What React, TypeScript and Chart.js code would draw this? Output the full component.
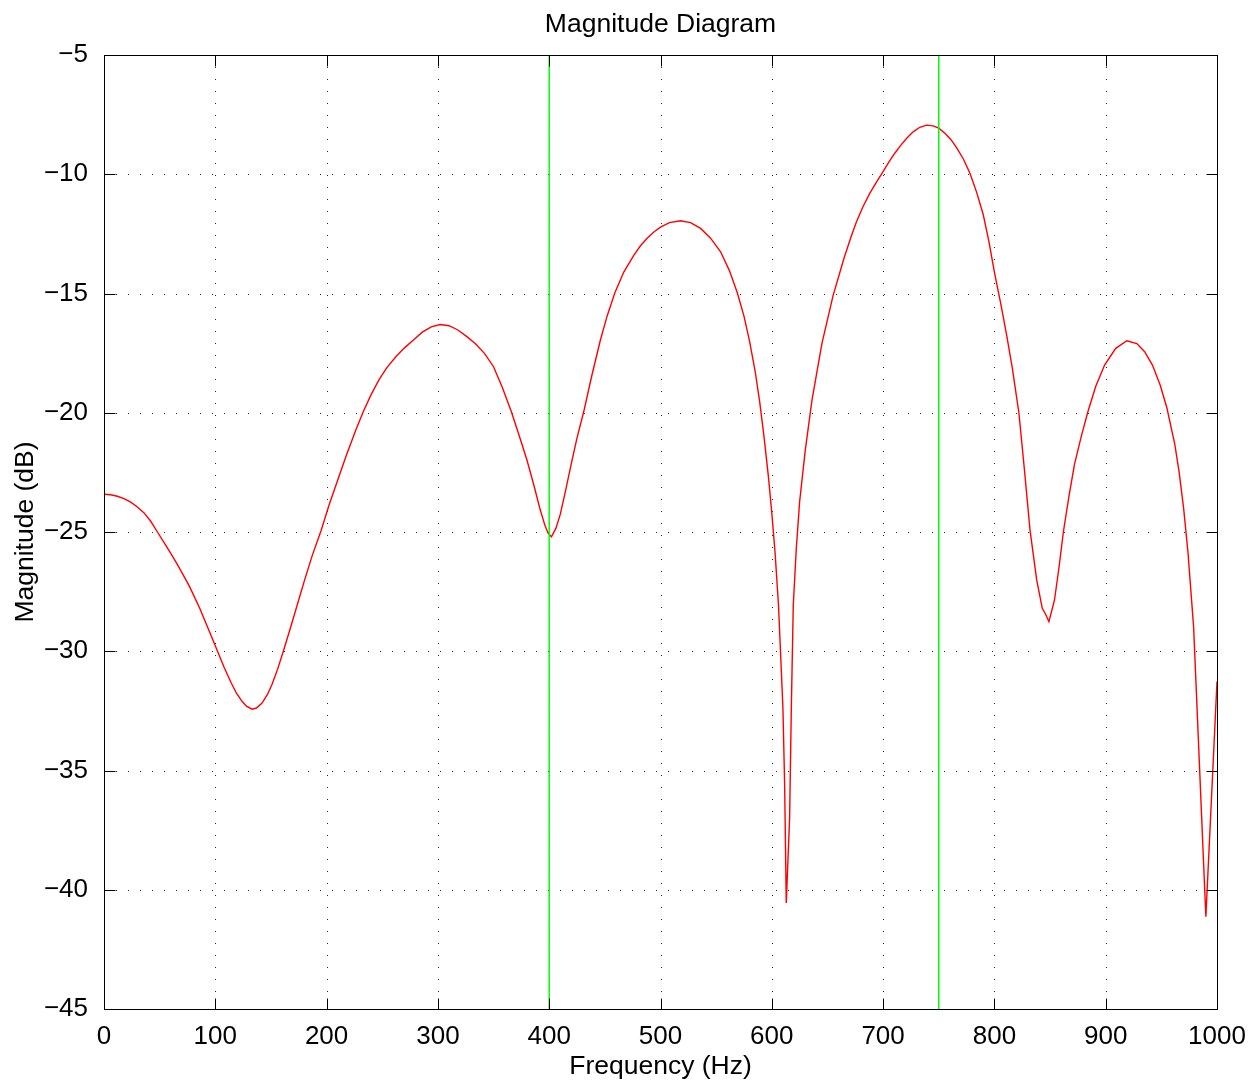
import React, { useEffect, useRef } from 'react';
import { Chart, registerables } from 'chart.js';

Chart.register(...registerables);

// Frequency samples (Hz) of the magnitude curve
const frequencies = [
  0, 6, 12, 18, 24, 30, 36, 42, 48, 54,
  60, 66, 72, 77, 81, 86, 90, 96, 102, 108,
  114, 119, 124, 128, 133, 137, 142, 147, 151, 156,
  161, 167, 174, 180, 187, 195, 202, 210, 218, 226,
  233, 240, 247, 254, 262, 270, 278, 286, 294, 302,
  310, 318, 326, 334, 342, 350, 358, 366, 373, 380,
  386, 392, 396, 399, 402, 406, 410, 415, 420, 425,
  431, 438, 446, 452, 459, 467, 476, 482, 488, 494,
  500, 508, 518, 527, 536, 545, 554, 562, 569, 575,
  580, 585, 589, 593, 597, 600, 603, 606, 608, 610,
  611.5, 613, 616, 617.5, 619.3, 622, 625, 630, 636, 645,
  655, 665, 671, 676, 682, 688, 694, 699, 705, 710,
  716, 721, 727, 733, 739, 745, 750, 756, 761, 766,
  772, 778, 784, 790, 795, 800, 806, 811, 816, 822,
  827, 832, 838, 843, 846, 849, 854, 858, 862, 867,
  872, 878, 884, 891, 899, 909, 919, 928, 935, 942,
  949, 955, 962, 966, 970, 974, 979, 990, 1000,
];

// Magnitude (dB) at each frequency sample
const magnitudes = [
  -23.42, -23.44, -23.5, -23.6, -23.75, -23.95, -24.2, -24.55, -25.0, -25.45,
  -25.9, -26.37, -26.87, -27.3, -27.7, -28.2, -28.65, -29.32, -30.0, -30.68,
  -31.3, -31.76, -32.1, -32.3, -32.43, -32.38, -32.17, -31.8, -31.38, -30.75,
  -30.02, -29.1, -28.0, -27.05, -26.0, -24.95, -23.9, -22.82, -21.75, -20.75,
  -19.95, -19.24, -18.62, -18.12, -17.66, -17.28, -16.95, -16.62, -16.4, -16.3,
  -16.35, -16.53, -16.81, -17.12, -17.52, -18.07, -18.95, -19.96, -20.95, -21.98,
  -23.0, -24.08, -24.7, -25.05, -25.2, -24.85, -24.25, -23.2, -22.1, -21.05,
  -19.96, -18.5, -16.95, -15.95, -14.97, -14.1, -13.4, -13.0, -12.68, -12.42,
  -12.22, -12.03, -11.95, -12.03, -12.27, -12.68, -13.25, -14.05, -14.97, -15.95,
  -17.0, -18.25, -19.5, -21.0, -22.7, -24.2, -25.9, -28.06, -30.2, -32.4,
  -35.5, -40.55, -37.0, -32.5, -28.06, -25.7, -23.73, -21.6, -19.5, -17.1,
  -15.1, -13.5, -12.65, -12.0, -11.35, -10.8, -10.33, -9.96, -9.5, -9.15,
  -8.78, -8.5, -8.22, -8.03, -7.94, -7.97, -8.07, -8.3, -8.55, -8.88,
  -9.35, -9.96, -10.75, -11.7, -12.8, -14.1, -15.5, -16.75, -18.1, -20.0,
  -22.4, -24.92, -27.01, -28.2, -28.45, -28.76, -27.85, -26.5, -24.99, -23.5,
  -22.15, -21.0, -19.96, -18.9, -18.0, -17.3, -16.98, -17.1, -17.44, -18.0,
  -18.85, -19.8, -21.3, -22.5, -24.0, -25.9, -29.0, -41.13, -31.27,
];

const markerFrequencies = [400, 750];
const xTickValues = [0, 100, 200, 300, 400, 500, 600, 700, 800, 900, 1000];
const yTickValues = [-45, -40, -35, -30, -25, -20, -15, -10, -5];
const titleText = 'Magnitude Diagram';
const xLabelText = 'Frequency (Hz)';
const yLabelText = 'Magnitude (dB)';

const FONT = "'Liberation Sans', Arial, Helvetica, sans-serif";

const fmt = (v: number) => (v < 0 ? '\u2212' + Math.abs(v) : String(v));

const framePlugin = {
  id: 'matlabFrame',
  beforeDraw(chart: any) {
    const { ctx } = chart;
    ctx.save();
    ctx.fillStyle = '#ffffff';
    ctx.fillRect(0, 0, chart.width, chart.height);
    ctx.restore();
  },
  beforeDatasetsDraw(chart: any) {
    const { ctx, chartArea: a, scales } = chart;
    const xs = scales.x;
    const ys = scales.y;
    ctx.save();
    ctx.strokeStyle = '#262626';
    ctx.lineWidth = 1;
    ctx.setLineDash([1, 11]);
    xTickValues.forEach((v) => {
      const px = Math.round(xs.getPixelForValue(v)) + 0.5;
      if (px <= a.left + 1 || px >= a.right - 1) return;
      ctx.beginPath();
      ctx.moveTo(px, a.top);
      ctx.lineTo(px, a.bottom);
      ctx.stroke();
    });
    yTickValues.forEach((v) => {
      const py = Math.round(ys.getPixelForValue(v)) + 0.5;
      if (py <= a.top + 1 || py >= a.bottom - 1) return;
      ctx.beginPath();
      ctx.moveTo(a.left, py);
      ctx.lineTo(a.right, py);
      ctx.stroke();
    });
    ctx.restore();
  },
  afterDraw(chart: any) {
    const { ctx, chartArea: a, scales } = chart;
    const xs = scales.x;
    const ys = scales.y;
    ctx.save();
    ctx.strokeStyle = '#000000';
    ctx.lineWidth = 1;
    ctx.setLineDash([]);
    const L = Math.round(a.left) + 0.5;
    const R = Math.round(a.right) + 0.5;
    const T = Math.round(a.top) + 0.5;
    const B = Math.round(a.bottom) + 0.5;
    ctx.strokeRect(L, T, R - L, B - T);
    const tl = 11;
    ctx.beginPath();
    xTickValues.forEach((v) => {
      const px = Math.round(xs.getPixelForValue(v)) + 0.5;
      ctx.moveTo(px, B);
      ctx.lineTo(px, B - tl);
      ctx.moveTo(px, T);
      ctx.lineTo(px, T + tl);
    });
    yTickValues.forEach((v) => {
      const py = Math.round(ys.getPixelForValue(v)) + 0.5;
      ctx.moveTo(L, py);
      ctx.lineTo(L + tl, py);
      ctx.moveTo(R, py);
      ctx.lineTo(R - tl, py);
    });
    ctx.stroke();

    ctx.fillStyle = '#000000';
    ctx.font = `26.5px ${FONT}`;
    ctx.textAlign = 'center';
    ctx.textBaseline = 'alphabetic';
    const cx = (a.left + a.right) / 2;
    ctx.fillText(titleText, cx, a.top - 23);
    ctx.fillText(xLabelText, cx, a.bottom + 65);
    ctx.translate(33, (a.top + a.bottom) / 2);
    ctx.rotate(-Math.PI / 2);
    ctx.fillText(yLabelText, 0, 0);
    ctx.restore();
  },
};

export default function App() {
  const canvasRef = useRef<HTMLCanvasElement | null>(null);

  useEffect(() => {
    const canvas = canvasRef.current;
    if (!canvas) return;
    const curve = frequencies.map((f, i) => ({ x: f, y: magnitudes[i] }));
    const markerSets = markerFrequencies.map((f) => ({
      data: [
        { x: f, y: yTickValues[yTickValues.length - 1] },
        { x: f, y: yTickValues[0] },
      ],
      borderColor: '#00ff00',
      borderWidth: 1.5,
      pointRadius: 0,
      tension: 0,
      order: 1,
    }));
    const chart = new Chart(canvas, {
      type: 'line',
      data: {
        datasets: [
          ...markerSets,
          {
            data: curve,
            borderColor: '#ff0000',
            borderWidth: 1.4,
            pointRadius: 0,
            tension: 0,
            order: 2,
          },
        ],
      },
      options: {
        animation: false,
        responsive: false,
        maintainAspectRatio: false,
        devicePixelRatio: 1,
        layout: { padding: { top: 55, right: 37, left: 0, bottom: 0 } },
        plugins: { legend: { display: false }, tooltip: { enabled: false }, title: { display: false } },
        scales: {
          x: {
            type: 'linear',
            min: 0,
            max: 1000,
            grid: { display: false },
            border: { display: false },
            afterBuildTicks: (scale: any) => {
              scale.ticks = xTickValues.map((v) => ({ value: v }));
            },
            afterFit: (scale: any) => {
              scale.height = 74;
            },
            ticks: {
              autoSkip: false,
              maxRotation: 0,
              padding: 4,
              color: '#000000',
              font: { family: FONT, size: 26 },
              callback: (v: any) => fmt(Number(v)),
            },
          },
          y: {
            type: 'linear',
            min: -45,
            max: -5,
            grid: { display: false },
            border: { display: false },
            afterBuildTicks: (scale: any) => {
              scale.ticks = yTickValues.map((v) => ({ value: v }));
            },
            afterFit: (scale: any) => {
              scale.width = 104;
            },
            ticks: {
              autoSkip: false,
              padding: 8,
              color: '#000000',
              font: { family: FONT, size: 26 },
              callback: (v: any) => fmt(Number(v)),
            },
          },
        },
      },
      plugins: [framePlugin],
    } as any);
    return () => chart.destroy();
  }, []);

  return (
    <div style={{ position: 'absolute', left: 0, top: 0, width: 1254, height: 1083, background: '#fff' }}>
      <canvas ref={canvasRef} width={1254} height={1083} style={{ display: 'block' }} />
    </div>
  );
}
